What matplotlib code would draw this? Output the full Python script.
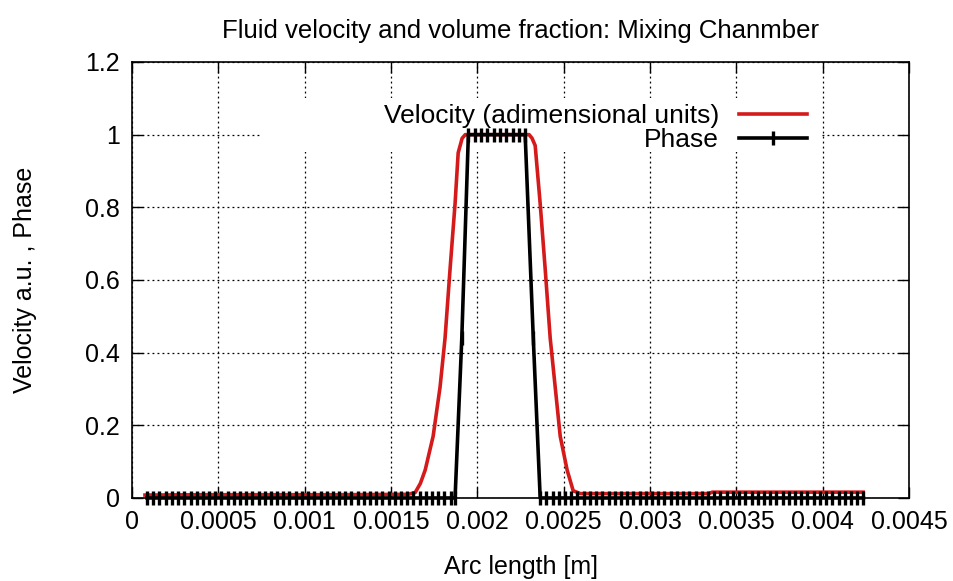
import numpy as np
import matplotlib.pyplot as plt
from matplotlib.patches import Rectangle

plt.rcParams["font.family"] = ["Liberation Sans", "DejaVu Sans"]

# -----------------------------
# data (arc length in micrometres)
# -----------------------------
vel_s = [75, 400, 800, 1200, 1600, 1640, 1670, 1698, 1744, 1784, 1813, 1842, 1871,
         1889, 1912, 1930, 2100, 2300, 2317, 2335, 2364, 2393, 2422, 2451, 2480,
         2520, 2555, 2596, 3000, 3340, 3360, 3800, 4235]
vel_v = [0.008, 0.009, 0.009, 0.009, 0.010, 0.015, 0.040, 0.077, 0.17, 0.305, 0.44,
         0.63, 0.81, 0.95, 0.99, 1.0, 1.0, 1.0, 0.99, 0.97, 0.81, 0.63, 0.44, 0.305,
         0.17, 0.077, 0.020, 0.012, 0.012, 0.012, 0.016, 0.016, 0.016]

phase_s = [87, 123, 159, 195, 231, 267, 303, 339, 374, 410, 446, 482, 518, 554, 590,
           625, 661, 697, 733, 769, 805, 841, 876, 912, 948, 984, 1020, 1056, 1092,
           1128, 1163, 1199, 1235, 1271, 1307, 1343, 1379, 1414, 1450, 1486, 1522,
           1558, 1594, 1630, 1666, 1701, 1737, 1773, 1809, 1845, 1871,
           1910,
           1948, 1985, 2021, 2058, 2094, 2131, 2167, 2204, 2240, 2277,
           2324,
           2364, 2400, 2436, 2472, 2508, 2544, 2580, 2616, 2652, 2688, 2724, 2760,
           2796, 2832, 2868, 2904, 2940, 2976, 3012, 3048, 3084, 3120, 3156, 3192,
           3228, 3264, 3300, 3336, 3372, 3408, 3444, 3480, 3516, 3552, 3588, 3624,
           3660, 3696, 3732, 3768, 3804, 3840, 3876, 3912, 3948, 3984, 4020, 4056,
           4092, 4128, 4164, 4200, 4236]
phase_v = [0.0] * 51 + [0.44] + [1.0] * 10 + [0.44] + [0.0] * 53

x_ticks = [0, 0.0005, 0.001, 0.0015, 0.002, 0.0025, 0.003, 0.0035, 0.004, 0.0045]
x_labels = ["0", "0.0005", "0.001", "0.0015", "0.002", "0.0025", "0.003",
            "0.0035", "0.004", "0.0045"]
y_ticks = [0, 0.2, 0.4, 0.6, 0.8, 1.0, 1.2]
y_labels = ["0", "0.2", "0.4", "0.6", "0.8", "1", "1.2"]

vel_s = np.array(vel_s) * 1e-6
phase_s = np.array(phase_s) * 1e-6

# -----------------------------
# figure
# -----------------------------
fig = plt.figure(figsize=(9.54, 5.81), dpi=100)
ax = fig.add_axes([0.1384, 0.1429, 0.8144, 0.7504])

ax.plot(vel_s, vel_v, color="#d41a1a", linewidth=2.6,
        label="Velocity (adimensional units)", zorder=3)
ax.plot(phase_s, phase_v, color="black", linewidth=2.6, marker="|",
        markersize=9.5, markeredgewidth=2.4, label="Phase", zorder=4,
        clip_on=False)

ax.set_xlim(0, 0.0045)
ax.set_ylim(0, 1.2)
ax.set_xticks(x_ticks)
ax.set_xticklabels(x_labels)
ax.set_yticks(y_ticks)
ax.set_yticklabels(y_labels)

ax.tick_params(direction="in", length=8, width=1, labelsize=18,
               top=True, right=True, pad=9)
for sp in ax.spines.values():
    sp.set_linewidth(1.2)

ax.grid(True, linestyle=(0, (1.5, 2.5)), color="black", linewidth=0.9)
ax.set_axisbelow(True)

# white area behind the key, hiding the grid
ax.add_patch(Rectangle((0.167, 0.794), 0.72, 0.123, transform=ax.transAxes,
                       facecolor="white", edgecolor="none", zorder=1.5))

ax.legend(loc="upper right", bbox_to_anchor=(0.893, 0.945), markerfirst=False,
          frameon=False, fontsize=19, handlelength=2.6, handletextpad=0.75,
          labelspacing=0.0, borderpad=0.2)

ax.set_title("Fluid velocity and volume fraction: Mixing Chanmber",
             fontsize=18.5, pad=17)
ax.set_xlabel("Arc length [m]", fontsize=18, labelpad=15)
ax.set_ylabel("Velocity a.u. , Phase", fontsize=18, labelpad=34)

plt.savefig("out.png", dpi=100)
plt.close()
